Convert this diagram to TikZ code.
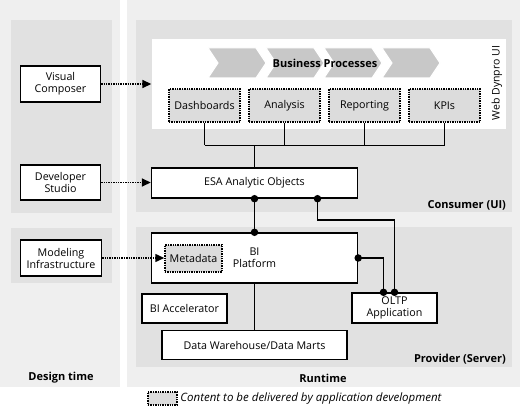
\documentclass[tikz,border=0pt]{standalone}
\usepackage{fontspec}
\setmainfont{Open Sans}
\usetikzlibrary{arrows.meta, positioning, calc}
\definecolor{cpanel}{HTML}{EFEFEF}
\definecolor{cinner}{HTML}{E1E1E1}
\definecolor{cdot}{HTML}{DCDCDC}
\definecolor{cchev}{HTML}{C8C8C8}
\tikzset{
  every picture/.style={line width=1.4pt},
  box/.style={draw=black, fill=white, align=center, inner sep=1pt, font=\fontsize{10.7}{12}\selectfont},
  dotbox/.style={box, fill=cdot, line width=1.5pt, dash pattern=on 1.4pt off 1pt},
  dotarrow/.style={line width=1.5pt, dash pattern=on 1.4pt off 1pt, -{Triangle[length=9pt, width=8pt]}},
  link/.style={draw=black, line width=1.5pt},
  joint/.style={circle, fill=black, inner sep=0pt, minimum size=7.5pt},
  title/.style={font=\fontsize{11}{13}\selectfont\bfseries},
}
\begin{document}
\begin{tikzpicture}[x=1pt, y=-1pt]
  \useasboundingbox (0,0) rectangle (520,409);
  % panels
  \fill[cpanel] (0,0) rectangle (120,387);
  \fill[cpanel] (127,0) rectangle (520,387);
  \fill[cinner] (11,20) rectangle (112,213);
  \fill[cinner] (11,228) rectangle (112,283);
  \fill[cinner] (136,20) rectangle (512,212);
  \fill[cinner] (136,227) rectangle (512,367);
  \node[fill=white, minimum width=354pt, minimum height=90pt, inner sep=0pt] (webui) at (329,84) {};
  % business process chevrons
  \foreach \i in {0,...,3}
    \filldraw[fill=cchev, draw=white, line width=1pt] (208+58*\i,48) -- ++(48,0) -- ++(10,15) -- ++(-10,15) -- ++(-48,0) -- ++(10,-15) -- cycle;
  \node[title] (bp) at (325,63) {Business Processes};
  \node[rotate=90, font=\fontsize{10.5}{12}\selectfont] (wd) at (497,83) {Web Dynpro UI};

  \node[dotbox, minimum width=71pt, minimum height=33pt] (dash) at (204.5,105.5) {Dashboards};
  \node[dotbox, minimum width=71pt, minimum height=33pt] (ana) at (284.5,105.5) {Analysis};
  \node[dotbox, minimum width=71pt, minimum height=33pt] (rep) at (364.5,105.5) {Reporting};
  \node[dotbox, minimum width=71pt, minimum height=33pt] (kpi) at (444.5,105.5) {KPIs};

  \node[box, minimum width=206pt, minimum height=30pt] (esa) at (254.5,183) {ESA Analytic Objects};
  \node[box, minimum width=206pt, minimum height=50pt] (bi) at (254.5,258) {BI\\Platform};
  \node[dotbox, minimum width=57pt, minimum height=27pt] (meta) at (193.5,258.5) {Metadata};
  \node[box, minimum width=85pt, minimum height=29pt] (bia) at (184.5,308.5) {BI Accelerator};
  \node[box, minimum width=185pt, minimum height=29pt] (dw) at (254.5,345) {Data Warehouse/Data Marts};
  \node[box, minimum width=85pt, minimum height=30pt] (oltp) at (394.5,308) {OLTP\\Application};

  \node[box, minimum width=80pt, minimum height=36pt] (vc) at (60.5,84) {Visual\\Composer};
  \node[box, minimum width=80pt, minimum height=35pt] (ds) at (60.5,182.5) {Developer\\Studio};
  \node[box, minimum width=81pt, minimum height=36pt] (mi) at (61,258) {Modeling\\Infrastructure};

  % links
  \coordinate (bus) at (254.5,145.5);
  \foreach \n in {dash, ana, rep, kpi}
    \draw[link] (\n.south) -- (\n.south |- bus);
  \draw[link] (dash.south |- bus) -- (kpi.south |- bus);
  \draw[link] (esa.north) -- (esa.north |- bus);
  \draw[link] (esa.south) -- (bi.north);
  \draw[link] (bi.south) -- (dw.north);
  \coordinate (esaport) at ($(esa.south)+(63,0)$);
  \coordinate (oltpin) at ($(oltp.north)+(-11,0)$);
  \draw[link] (esaport) -- ++(0,21.5) -| (oltp.north);
  \draw[link] (bi.east) -| (oltpin);
  \foreach \p in {esa.south, bi.north, esaport, bi.east, oltp.north, oltpin}
    \node[joint] at (\p) {};

  \draw[dotarrow] (vc.east) -- (vc.east -| webui.west);
  \draw[dotarrow] (ds.east) -- (ds.east -| esa.west);
  \draw[dotarrow] (mi.east) -- (mi.east -| meta.west);

  \node[title, anchor=east] (cons) at (510,205) {Consumer (UI)};
  \node[title, anchor=east] (prov) at (510,359) {Provider (Server)};
  \node[title] (dt) at (61,378) {Design time};
  \node[title] (rt) at (323,378) {Runtime};
  % legend
  \node[dotbox, minimum width=29pt, minimum height=13pt] (leg) at (162.5,398.5) {};
  \node[anchor=west, inner sep=2pt, font=\fontsize{11.5}{13}\selectfont\itshape] (legtext) at (leg.east) {Content to be delivered by application development};
\end{tikzpicture}
\end{document}
